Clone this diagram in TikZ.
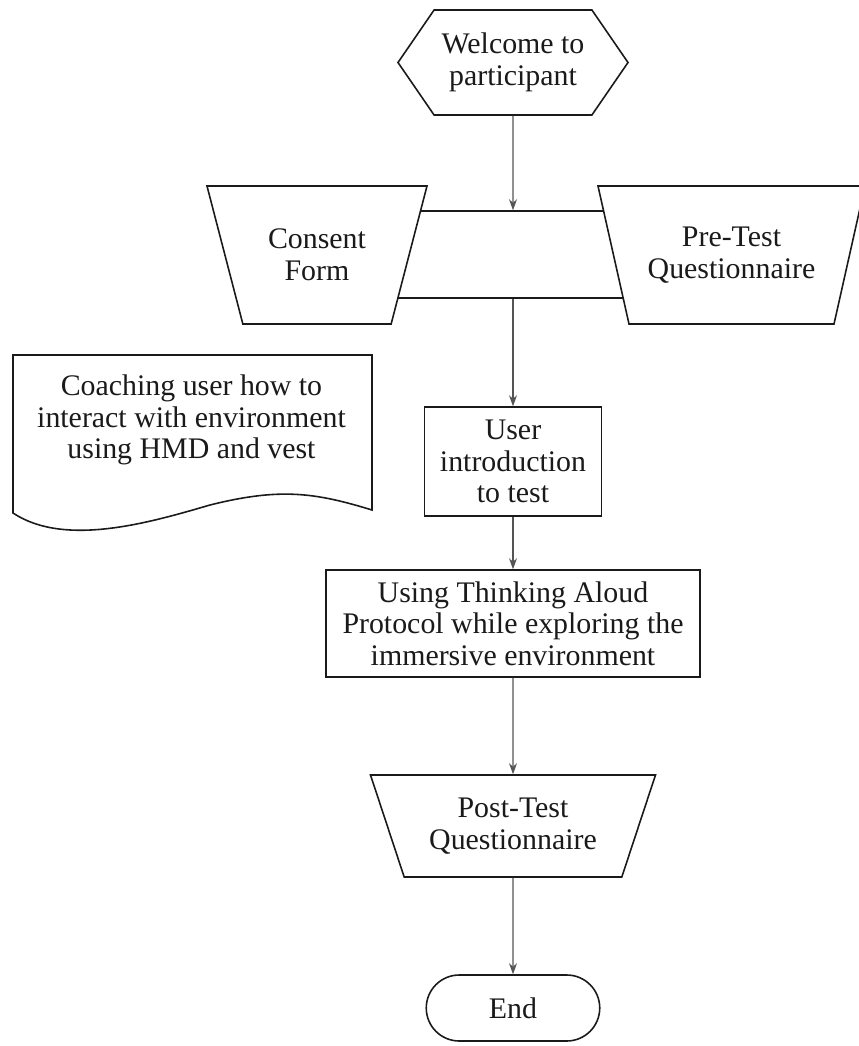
\documentclass[tikz,border=0pt]{standalone}
\usepackage{fontspec}
\setmainfont{Liberation Serif}
\usetikzlibrary{arrows.meta, shapes.geometric, shapes.symbols, shapes.misc}
\definecolor{cInk}{HTML}{1A1A1A}
\definecolor{cArr}{HTML}{555555}
\tikzset{
  base/.style={draw=cInk, line width=0.9pt, align=center, font=\fontsize{17}{18}\selectfont,
               text=cInk, inner sep=1pt, fill=white},
  proc/.style={base, rectangle},
  manual/.style={base, trapezium, shape border rotate=180, trapezium stretches body=true},
  hexa/.style={base, signal, signal to=east and west, signal pointer angle=111},
  term/.style={base, rounded rectangle},
  main/.style={-{Stealth[length=2.2mm, width=1.6mm]}, line width=0.6pt, draw=cArr},
}

\begin{document}
\begin{tikzpicture}
  \useasboundingbox (0,0) rectangle (17.18,-20.92);

  % ---- start and paperwork
  \node[hexa, minimum width=4.6cm, minimum height=2.1cm] (welcome) at (10.26,-1.25) {Welcome to\\ participant};
  \node[proc, minimum width=8cm, minimum height=1.74cm] (split) at (10.26,-5.09) {};
  \node[manual, trapezium angle=57, minimum width=4.4cm, minimum height=2.76cm] (consent) at (6.34,-5.1) {Consent\\ Form};
  \node[manual, trapezium angle=62.5, minimum width=5.34cm, minimum height=2.76cm] (pretest) at (14.63,-5.1) {Pre-Test\\ Questionnaire};

  % ---- coaching note
  \draw[cInk, line width=0.9pt] (0.26,-7.1) -- (7.44,-7.1) -- (7.44,-10.2)
       .. controls (6.3,-9.85) and (5.6,-9.75) .. (4.2,-10.1)
       .. controls (3.0,-10.45) and (1.3,-10.95) .. (0.26,-10.26) -- cycle;
  \node[base, draw=none, fill=none] (coach) at (3.83,-8.4) {Coaching user how to\\ interact with environment\\ using HMD and vest};

  % ---- test session
  \node[proc, minimum width=3.54cm, minimum height=2.18cm] (intro) at (10.26,-9.23) {User\\ introduction\\ to test};
  \node[proc, minimum width=7.48cm, minimum height=2.14cm] (think) at (10.26,-12.47) {Using Thinking Aloud\\ Protocol while exploring the\\ immersive environment};
  \node[manual, trapezium angle=60.5, minimum width=5.7cm, minimum height=2.04cm] (post) at (10.26,-16.52) {Post-Test\\ Questionnaire};
  \node[term, minimum width=3.54cm, minimum height=1.32cm] (finish) at (10.26,-20.16) {End};

  % ---- flow
  \draw[main] (welcome) -- (split);
  \draw[main] (split) -- (intro);
  \draw[main] (intro) -- (think);
  \draw[main] (think) -- (post);
  \draw[main] (post) -- (finish);
\end{tikzpicture}
\end{document}
